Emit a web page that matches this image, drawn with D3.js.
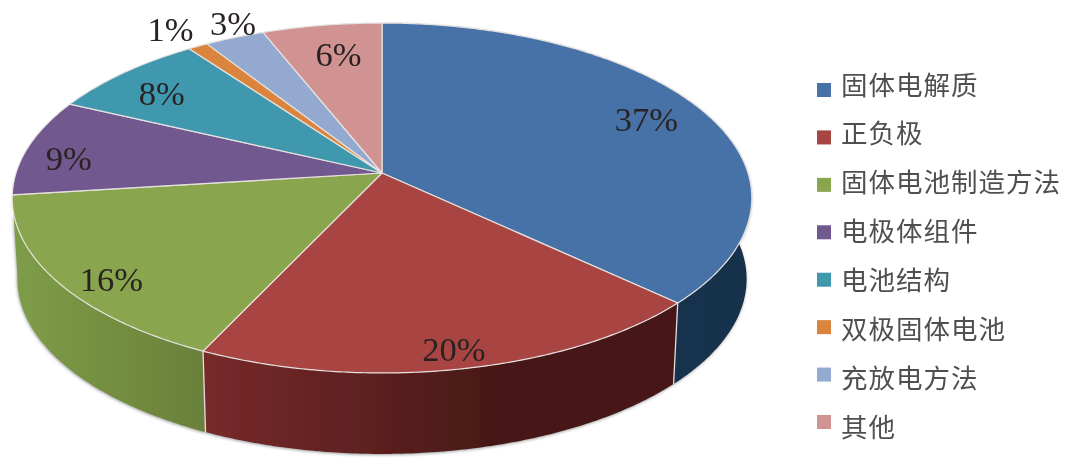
<!DOCTYPE html>
<html>
<head>
<meta charset="utf-8">
<script src="https://cdn.jsdelivr.net/npm/d3@7/dist/d3.min.js"></script>
<style>
html,body{margin:0;padding:0;background:#fff;overflow:hidden}
svg{display:block}
</style>
</head>
<body>
<svg id="chart" width="1080" height="465"></svg>
<script>
// ---- data ----
const categories = ["固体电解质","正负极","固体电池制造方法","电极体组件","电池结构","双极固体电池","充放电方法","其他"];
const values = [37,20,16,9,8,1,3,6];
const percentLabels = ["37%","20%","16%","9%","8%","1%","3%","6%"];

// ---- styling ----
const faceColors = ["#4672a8","#a84442","#89a54e","#71588f","#4198af","#db843d","#93a9cf","#d19392"];
const sideStops = [
  ["#1b3654","#16304c"],
  ["#782a2b","#471816"],
  ["#7e9d48","#6a803a"]
];
const labelRadius = [.824,.913,.887,.87,.813,1.153,1.10,.776];
const labelTurn = [0,0,-4,-3.5,-2,-0.5,2,1];

// ---- perspective projection of the pie disc ----
const apex = {x:382, y:173};
const spanX = 366, spanY = 171.4, persp = 7;
const depth = 81, shrink = 0.986;
function project(r, theta){
  const u = r*Math.sin(theta), v = -r*Math.cos(theta), d = 1 - v/persp;
  return [apex.x + spanX*u/d, apex.y + spanY*v/d];
}
const lowered = ([x,y]) => [apex.x + (x-apex.x)*shrink, y + depth];
const arcPoints = (a0,a1) => {
  const n = Math.max(2, Math.ceil((a1-a0)/0.01));
  return d3.range(n+1).map(i => project(1, a0 + (a1-a0)*i/n));
};

const svg = d3.select("#chart");
const defs = svg.append("defs");
const soft = defs.append("filter").attr("id","soft").attr("x","-5%").attr("y","-5%").attr("width","110%").attr("height","110%");
soft.append("feGaussianBlur").attr("stdDeviation",0.55);
const shadow = defs.append("filter").attr("id","shadow").attr("x","-5%").attr("y","-5%").attr("width","110%").attr("height","115%");
shadow.append("feDropShadow").attr("dx",-0.5).attr("dy",1).attr("stdDeviation",1.4).attr("flood-color","#777").attr("flood-opacity",0.7);

const pie = d3.pie().sort(null).value(d=>d);
const arcs = pie(values);
const line = d3.line();

const root = svg.append("g").attr("filter","url(#soft)");

// side wall: only the three front slices show a wall
const sidePaths = arcs.slice(0,sideStops.length).map(a=>{
  const top = arcPoints(a.startAngle,a.endAngle);
  return {a, top, bottom: top.map(lowered).reverse()};
});
sidePaths.forEach((s,i)=>{
  const xs = s.top.map(p=>p[0]);
  const g = defs.append("linearGradient").attr("id","side"+i)
    .attr("gradientUnits","userSpaceOnUse")
    .attr("x1",d3.min(xs)).attr("x2",i===1?d3.min(xs)+300:d3.max(xs)).attr("y1",0).attr("y2",0);
  g.append("stop").attr("offset",0).attr("stop-color",sideStops[i][0]);
  g.append("stop").attr("offset",1).attr("stop-color",sideStops[i][1]);
});
const sideG = root.append("g").attr("filter","url(#shadow)");
sideG.selectAll("path").data(sidePaths).join("path")
  .attr("d",s=>line(s.top.concat(s.bottom))+"Z")
  .attr("fill",(s,i)=>`url(#side${i})`);
// seams between the front wall pieces
root.selectAll("line.seam").data(arcs.slice(0,2)).join("line")
  .attr("class","seam")
  .each(function(a){
    const p = project(1,a.endAngle), q = lowered(p);
    d3.select(this).attr("x1",p[0]).attr("y1",p[1]).attr("x2",q[0]).attr("y2",q[1]);
  })
  .attr("stroke","#e4dedb").attr("stroke-width",1.3);

// top faces
root.append("g").selectAll("path").data(arcs).join("path")
  .attr("d",a=>line([[apex.x,apex.y]].concat(arcPoints(a.startAngle,a.endAngle)))+"Z")
  .attr("fill",(a,i)=>faceColors[i])
  .attr("stroke","#e6e2e0").attr("stroke-width",1.2).attr("stroke-linejoin","round");

// percent labels
root.append("g").selectAll("text").data(arcs).join("text")
  .attr("transform",(a,i)=>{
    const mid = (a.startAngle+a.endAngle)/2 + labelTurn[i]*Math.PI/180;
    const [x,y] = project(labelRadius[i],mid);
    return `translate(${x},${y})`;
  })
  .attr("text-anchor","middle").attr("dy","0.33em")
  .attr("font-family","'Liberation Serif',serif").attr("font-size",34.5)
  .attr("fill","#2a2422")
  .text((a,i)=>percentLabels[i]);

// legend
const swatchY = d3.scalePoint().domain(categories).range([90,422]);
const textY = d3.scalePoint().domain(categories).range([85,427]);
const legend = root.append("g");
legend.selectAll("rect").data(categories).join("rect")
  .attr("x",817).attr("width",14).attr("height",14)
  .attr("y",d=>swatchY(d)-7)
  .attr("fill",(d,i)=>faceColors[i]);
legend.selectAll("text").data(categories).join("text")
  .attr("x",841).attr("y",d=>textY(d)).attr("dy","0.36em")
  .attr("font-family","'Noto Sans CJK SC',sans-serif").attr("font-size",26.5)
  .attr("letter-spacing",1)
  .attr("fill","#505050")
  .text(d=>d);
</script>
</body>
</html>
